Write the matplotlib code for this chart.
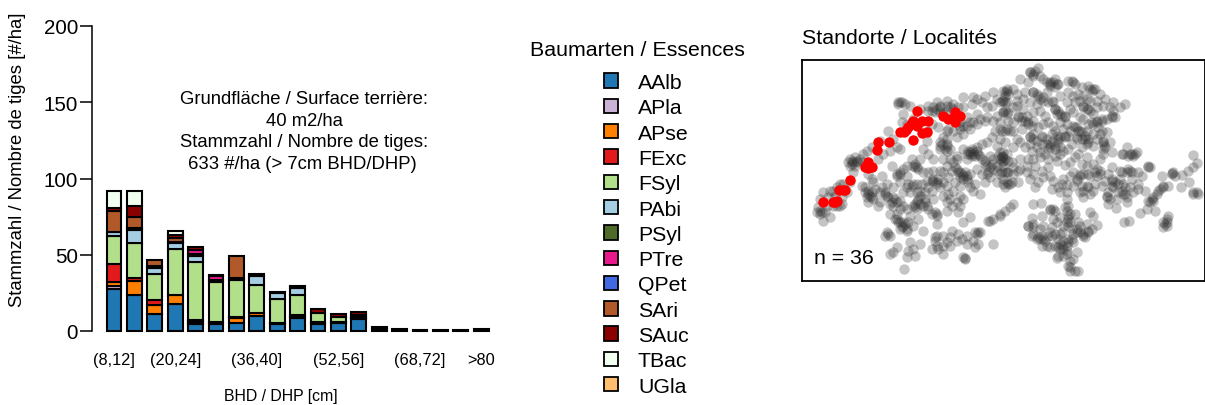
import matplotlib
matplotlib.use("Agg")
import matplotlib.pyplot as plt
from matplotlib.patches import Patch
import numpy as np

plt.rcParams['font.family'] = ['Liberation Sans', 'DejaVu Sans']

W, H = 1205, 406

bins = ["(8,12]", "(12,16]", "(16,20]", "(20,24]", "(24,28]", "(28,32]", "(32,36]", "(36,40]", "(40,44]", "(44,48]",
        "(48,52]", "(52,56]", "(56,60]", "(60,64]", "(64,68]", "(68,72]", "(72,76]", "(76,80]", ">80"]
shown_bins = ["(8,12]", "(20,24]", "(36,40]", "(52,56]", "(68,72]", ">80"]

species = ["AAlb", "APla", "APse", "FExc", "FSyl", "PAbi", "PSyl", "PTre", "QPet", "SAri", "SAuc", "TBac", "UGla"]
colors = ["#1F78B4", "#CAB2D6", "#FF7F00", "#E31A1C", "#B2DF8A", "#A6CEE3", "#4F6B2A", "#E7198B", "#4169E1",
          "#B15928", "#8B0000", "#F0FFF0", "#FDBF6F"]

AAlb = [27.5, 23.6, 11, 17.5, 4.6, 4.4, 5.2, 9.6, 4.4, 8.7, 4.8, 5.2, 7.9, 0, 1.0, 0.7, 0.5, 0.5, 1.0]
APla = [2.2, 0, 0, 0, 0.5, 0, 0, 0, 0, 0.8, 0.6, 0.4, 0.5, 0, 0, 0, 0, 0, 0]
APse = [2.6, 9.2, 6, 6.1, 1.5, 1.3, 3.5, 2.2, 0.8, 0, 0, 0.4, 0, 0, 0, 0, 0, 0, 0]
FExc = [11.7, 1.7, 3.3, 0, 0.9, 0, 0.5, 0, 0, 0.8, 0.6, 0, 0.6, 0, 0, 0, 0, 0, 0]
FSyl = [18, 23.5, 17.3, 30.2, 37.7, 26.3, 24.1, 18.2, 15.8, 13, 5.8, 3.2, 1.5, 0, 0, 0, 0, 0, 0]
PAbi = [3, 8.4, 3.9, 3.9, 4, 0, 0, 5.8, 4, 5, 0, 0, 0, 0, 0, 0, 0, 0, 0]
PSyl = [0, 0, 0.9, 0.9, 1.6, 1.7, 1.7, 1.8, 0.8, 0, 0, 0, 0, 1.4, 0, 0, 0, 0, 0]
PTre = [0, 0, 0.4, 0, 2.6, 2.1, 0, 0, 0, 0, 0, 0, 0, 0, 0, 0, 0, 0, 0]
QPet = [0, 1.4, 0, 0, 0, 0, 0, 0, 0, 0, 0, 0, 0, 0, 0, 0, 0, 0, 0]
SAri = [14, 7.2, 4, 2.2, 0, 0, 14.5, 0, 0, 0, 0, 0, 0, 0, 0, 0, 0, 0, 0]
SAuc = [1.4, 6.7, 0, 2.2, 1.8, 0.9, 0, 0, 0, 1.2, 2.6, 1.8, 2.2, 1.4, 0, 0, 0, 0, 0]
TBac = [11.2, 10.3, 0, 2.6, 0, 0, 0, 0, 0, 0, 0, 0, 0, 0, 0, 0, 0, 0, 0]
UGla = [0] * 19
table = [AAlb, APla, APse, FExc, FSyl, PAbi, PSyl, PTre, QPet, SAri, SAuc, TBac, UGla]

# plot locations on the map's own grid
grey = [
 (60,465),(70,485),(55,445),(75,460),(90,475),(60,420),(80,440),(100,440),(120,440),(90,395),(110,385),(130,375),(105,410),(85,415),(70,400),(125,415),(140,400),
 (150,370),(165,320),(155,305),(165,295),(180,300),(150,320),(170,310),(190,285),(200,275),(215,265),(190,310),(160,340),(205,345),(240,245),(265,215),(280,240),(300,270),(290,265),(270,275),(250,285),(235,300),
 (300,130),(295,135),(315,135),(330,140),(310,165),(305,190),(320,195),(340,180),(360,150),(385,140),(410,130),(420,145),(440,125),(460,135),(475,145),(405,160),(430,165),(395,195),(415,205),(440,215),(460,215),(480,200),(490,115),(520,115),(555,110),(580,100),(610,95),(490,145),(515,135),(545,130),(575,140),(600,130),(530,165),(500,175),(555,185),(580,185),(600,190),(510,210),(490,225),(470,235),(440,240),(420,250),(380,215),(370,270),(385,285),(400,300),(420,270),(440,275),(430,300),(450,270),(470,290),(380,245),(440,255),
 (510,280),(520,285),(530,275),(515,270),(540,290),(500,300),(490,270),(555,315),(570,325),(590,320),(600,300),(610,280),(610,320),(570,290),(560,250),(590,260),(615,250),(575,235),(545,255),(480,340),(490,350),(500,360),(470,330),(455,335),(510,345),(530,330),(545,345),(520,395),(555,370),(540,405),(590,370),(610,360),(570,355),
 (340,320),(350,325),(300,340),(290,345),(275,320),(310,330),(245,350),(185,380),(215,360),(220,370),(195,385),(205,405),(215,415),(205,430),(235,440),(255,405),(265,415),(275,430),(285,420),(300,425),(320,385),(335,380),(350,375),(365,375),(380,365),(400,360),(410,370),(420,385),(395,395),(375,400),(355,420),(345,435),(350,450),(370,440),(385,450),(410,465),(440,455),(430,410),(445,405),(400,420),(375,420),(340,440),(480,410),(490,420),(475,460),(510,475),(490,490),(270,465),(285,480),(295,490),(310,500),(320,515),(300,510),(265,525),(255,530),(370,515),(410,495),(355,480),(330,470),
 (410,530),(405,545),(430,530),(455,515),(450,535),(475,525),(485,540),(450,560),(500,555),(525,520),(540,520),(535,555),(580,555),(565,485),(580,480),(600,465),(615,455),(495,600),(490,595),(430,585),(415,570),(395,570),(360,555),(340,570),(325,575),(345,590),(320,595),(290,565),(280,580),(270,585),(312,630),
 (715,28),(690,40),(700,45),(660,60),(685,70),(730,60),(750,70),(765,60),(770,75),(750,80),(815,65),(825,75),(845,85),(865,80),(880,90),(875,95),(620,95),(625,105),(650,105),(675,100),(700,100),(715,110),(730,125),(805,100),(835,105),(860,120),(890,125),(915,120),(940,130),(975,135),(960,145),(610,125),(615,130),(640,145),(670,150),(700,160),(720,155),(760,130),(765,150),(780,165),(795,170),(825,130),(850,145),(865,150),(890,145),(930,145),
 (610,160),(620,165),(655,175),(665,185),(685,190),(730,195),(780,190),(800,195),(830,205),(840,215),(875,190),(890,190),(905,180),(935,170),(945,175),(850,180),(905,215),(920,220),
 (615,215),(630,215),(650,240),(665,210),(690,230),(700,240),(725,230),(755,225),(780,235),(795,235),(830,235),(855,240),(865,250),(910,250),(915,265),(930,250),(675,265),(695,275),(740,255),(750,265),(765,260),(775,250),(805,270),(735,285),(765,290),(780,285),(835,285),(825,295),(860,295),(810,310),(795,318),(845,315),(900,300),(910,285),(935,280),(980,265),(965,285),(985,290),(1005,285),(1010,278),
 (605,290),(615,300),(620,285),(635,310),(660,300),(685,300),(680,320),(705,320),(720,295),(605,340),(620,340),(655,335),(625,375),(615,385),(655,370),(725,335),(745,325),(750,350),(715,370),(705,385),(755,390),(780,400),(785,375),(800,378),(830,360),(840,345),(865,345),(890,330),(900,345),(935,325),(840,400),(850,415),(865,385),(885,375),(920,415),(925,400),(935,360),(940,385),(965,340),(990,335),(970,375),(975,405),(980,430),(1015,390),(1025,350),(1015,375),(1045,322),(1035,395),
 (925,435),(948,448),(972,488),(988,485),(1020,462),(1040,450),(1065,455),(1045,425),(1060,415),(1075,395),(1090,385),(1085,352),(1115,342),(1125,350),(1145,347),(1105,380),(1142,385),(1168,368),(1165,335),(1180,325),(1190,312),(1180,288),(1178,398),(1195,405),(1090,505),(1105,470),(1100,490),
 (640,435),(630,445),(600,470),(698,435),(722,432),(800,420),(750,450),(765,455),(795,445),(725,470),(695,478),(685,500),(700,505),(810,465),(805,480),(825,465),(870,458),(880,472),(890,497),(865,520),(850,530),(755,505),(835,490),(715,535),(730,540),(745,530),(695,530),(725,562),(765,525),(780,555),(805,540),(820,550),(840,520),(775,565),(790,570),(770,597),(800,585),(830,578),(820,600),(805,620),(810,635),(835,637),(790,500),(815,510),
]
# the dense stretches, where plots lie on top of each other
grey_dense_west = [
 (150,300),(160,310),(170,305),(155,315),(145,310),(60,455),(65,460),(50,460),(100,395),(120,375),(125,435),(110,440),
 (295,130),(305,130),(400,145),(420,140),(440,140),(450,145),(410,150),(395,155),(385,155),(420,160),(440,155),(460,150),
 (480,210),(500,200),(520,190),(540,180),(560,175),(590,170),(610,160),(445,210),(430,235),(425,255),(440,260),(435,270),(420,260),(480,190),(510,190),(530,195),(490,200),
 (505,275),(510,285),(520,275),(525,290),(535,285),(515,290),(500,285),(530,265),(545,300),(555,305),(560,320),(575,315),(580,330),(565,340),(590,335),(605,310),(610,295),(595,290),(600,280),(580,300),
 (475,340),(485,345),(495,340),(490,360),(500,350),(480,355),(465,325),(505,370),(345,315),(355,330),(345,325),(290,350),(300,345),
 (205,395),(195,400),(210,410),(215,400),(220,420),(200,415),
 (400,365),(410,375),(395,365),(415,360),(385,385),(360,410),(350,425),(360,435),(345,445),(375,430),(380,440),(395,465),(405,460),(410,470),(350,400),(360,395),(325,375),(340,375),
 (255,400),(260,410),(280,415),(290,430),(270,435),(280,440),(240,430),
 (300,490),(310,490),(305,505),(320,510),(315,495),(290,480),(260,520),(270,530),(405,535),(495,598),(530,525),(535,520),(570,485),
]
grey_dense_east = [
 (690,40),(705,35),(700,50),(720,50),(740,70),(750,75),(760,70),(775,75),(765,85),(805,65),(820,70),(870,90),(885,90),
 (620,90),(615,100),(700,100),(710,105),(720,120),(730,115),(745,130),(755,125),(765,150),(775,155),(785,170),(770,165),(795,175),
 (605,125),(620,130),(615,155),(625,160),(655,170),(665,175),(675,185),(685,195),(695,200),(850,140),(860,150),(870,155),
 (865,195),(880,195),(890,185),(905,185),(920,180),(935,175),(825,205),(835,215),(845,220),(855,230),(865,240),(820,200),
 (605,215),(620,210),(640,215),(690,235),(700,225),(710,245),(725,235),(740,240),(755,245),(770,230),(750,255),(765,270),(745,270),(780,265),(775,240),(795,230),(805,230),(830,240),(845,240),(860,255),(910,245),(912,258),(910,270),(900,225),
 (970,285),(990,285),(1000,290),(605,295),(610,305),(625,305),(615,340),(630,375),(620,370),(610,375),(635,370),
 (840,350),(830,365),(850,345),(870,350),(885,340),(890,350),(900,335),(860,380),(850,395),(920,410),(930,420),(935,365),(945,370),(935,380),(965,395),(970,405),(980,415),(975,385),(960,335),(980,340),(995,340),(985,330),(1045,323),(1050,325),
 (1055,420),(1060,425),(1050,430),(1070,405),(1080,390),(1090,380),(1115,345),(1120,340),(1180,405),(1190,400),(1100,480),(1095,495),(995,285),
 (750,452),(760,450),(805,470),(800,455),(800,490),(810,490),(805,500),(805,440),
 (710,540),(720,540),(735,545),(725,530),(750,520),(755,530),(775,540),(790,545),(805,550),(815,540),(765,560),(780,570),(790,560),(800,560),(850,525),(865,515),(855,535),(830,520),(810,625),(825,637),(800,575),(775,590),(685,500),(700,495),(1090,490),(1100,500),
]
grey_between = [
 (530,120),(560,145),(590,120),(615,110),(640,90),(650,125),(670,120),(690,130),(650,140),(680,170),(710,135),(740,100),(780,110),(800,130),(820,110),(850,110),(870,125),(840,125),(900,105),(910,140),(940,155),(880,165),(820,160),(840,175),(810,150),(735,170),(745,190),(715,205),(700,185),(760,200),(765,215),(790,210),(810,215),
 (640,190),(625,185),(600,210),(585,215),(600,240),(640,265),(660,250),(690,255),(710,265),(725,255),(720,280),(700,300),(745,300),(770,305),(790,275),(815,255),(845,265),(880,260),(890,240),(880,225),(860,215),(895,205),
 (450,300),(460,310),(470,300),(440,320),(430,340),(445,355),(465,370),(480,380),(510,385),(525,375),(560,345),(600,345),(625,340),(640,345),(640,325),(660,330),(680,340),(700,345),(690,360),(730,355),(760,365),(790,360),(810,350),(820,340),(860,320),(880,315),(925,345),(915,365),(905,380),(880,395),(870,405),(845,380),(820,380),(800,400),(775,385),
 (360,300),(335,300),(320,320),(320,350),(300,370),(280,385),(260,375),(245,385),(225,390),(240,400),(310,400),(330,400),(310,440),(320,450),(300,450),(290,465),(325,490),(340,500),(440,430),(455,440),(440,380),(460,395),(450,420),(470,430),(480,440),
 (370,340),(385,340),(400,335),(420,335),(430,370),
 (960,360),(955,375),(955,400),(950,420),(990,385),(1000,400),(995,360),(1015,340),
 (730,500),(720,510),(770,490),(780,475),(760,480),(740,560),(750,565),(780,525),(830,510),(840,500),(860,495),(875,510),(790,590),(810,605),(785,520),(820,525),(700,525),
 (410,560),(440,550),(430,560),(470,545),(500,530),(520,545),(525,565),(330,550),
]
all_grey = grey + grey_dense_west + grey_dense_east + grey_between
grey_x = [p[0] for p in all_grey]
grey_y = [p[1] for p in all_grey]

red = [(68,428),(98,428),(104,428),(112,425),(118,393),(128,393),(135,393),(150,362),(195,325),(205,310),(215,325),(205,328),(200,318),(230,272),(233,250),(267,250),(300,220),(312,220),(325,205),(332,195),(340,185),(350,157),(340,242),(365,185),(385,187),(365,222),(382,218),(430,170),(445,180),(465,190),(465,160),(480,170),(470,172),(350,200),(318,212),(458,178)]
red_x = [p[0] for p in red]
red_y = [p[1] for p in red]

fig = plt.figure(figsize=(W / 100, H / 100), dpi=100)


def rect(l, t, r, b):
    return [l / W, 1 - b / H, (r - l) / W, (b - t) / H]


# --- bar panel
ax = fig.add_axes(rect(92, 27, 500, 332))
x = np.arange(len(bins))
base = np.zeros(len(bins))
for vals, col in zip(table, colors):
    v = np.array(vals, dtype=float)
    m = v > 0
    ax.bar(x[m], v[m], bottom=base[m], width=0.72, color=col, edgecolor='black', linewidth=1.5, clip_on=False)
    base += v
ax.set_xlim(-1.078, 18.92)
ax.set_ylim(0, 200)
for s in ['top', 'right', 'bottom']:
    ax.spines[s].set_visible(False)
ax.spines['left'].set_linewidth(1.1)
ax.set_yticks([0, 50, 100, 150, 200])
ax.tick_params(axis='y', labelsize=14.8, length=9, width=1.1, pad=1)
ax.set_xticks([bins.index(b) for b in shown_bins])
ax.set_xticklabels(shown_bins, fontsize=11.8)
ax.tick_params(axis='x', length=0, pad=15)
fig.text(281 / W, 1 - 397 / H, "BHD / DHP [cm]", fontsize=11.4, ha='center', va='center')
fig.text(18 / W, 1 - 160 / H, "Stammzahl / Nombre de tiges [#/ha]", fontsize=13.3, rotation=90, ha='center', va='center')
for line, px, py in [("Grundfläche / Surface terrière:", 304, 100), ("40 m2/ha", 304, 122),
                     ("Stammzahl / Nombre de tiges:", 304, 143), ("633 #/ha (> 7cm BHD/DHP)", 302, 165)]:
    fig.text(px / W, 1 - py / H, line, fontsize=13.3, ha='center', va='center')

# --- legend
handles = [Patch(facecolor=c, edgecolor='black', linewidth=1.3, label=s) for s, c in zip(species, colors)]
leg = fig.legend(handles=handles, loc='upper left', bbox_to_anchor=(604 / W, 1 - 74 / H), frameon=False,
                 fontsize=15.3, handlelength=0.66, handleheight=0.66, handletextpad=0.94, labelspacing=0.297,
                 borderpad=0, borderaxespad=0)
fig.text(637 / W, 1 - 51 / H, "Baumarten / Essences", fontsize=15.4, ha='center', va='center')

# --- map panel
mp = fig.add_axes(rect(802, 61, 1204.5, 282))
mp.scatter(grey_x, grey_y, s=56, color='#2b2b2b', alpha=0.28, linewidths=0)
mp.scatter(red_x, red_y, s=56, color='#ff0000', linewidths=0)
mp.set_xlim(6, 1213.5)
mp.set_ylim(666, 3)
mp.set_xticks([])
mp.set_yticks([])
for s in mp.spines.values():
    s.set_linewidth(1.3)
fig.text(802 / W, 1 - 38 / H, "Standorte / Localités", fontsize=15.4, ha='left', va='center')
fig.text(814 / W, 1 - 259 / H, "n = 36", fontsize=15.3, ha='left', va='center')

fig.savefig("out.png", dpi=100)
